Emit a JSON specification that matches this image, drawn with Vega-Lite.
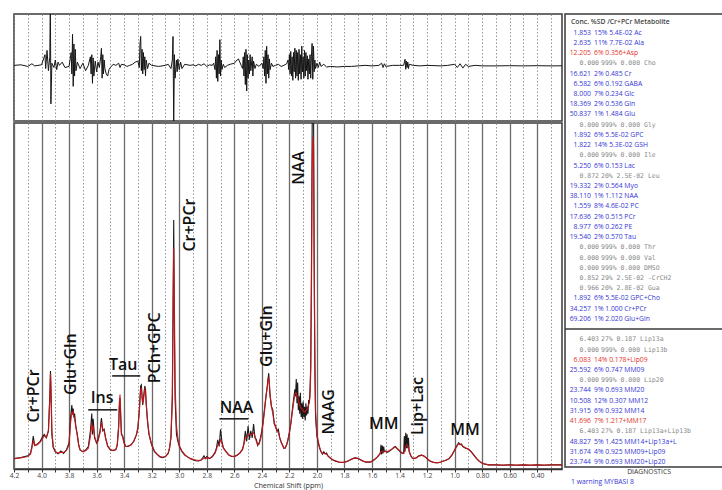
{
"$schema": "https://vega.github.io/schema/vega-lite/v6.json",
"background": "white",
"padding": {"left": 8, "top": 13, "right": 0, "bottom": 0},
"spacing": 0,
"config": {
  "view": {"stroke": "#3a3a3a", "strokeWidth": 1.5},
  "font": "Open Sans",
  "axis": {"labelFont": "Open Sans", "titleFont": "Open Sans"}
},
"datasets": {
"spec": [
{"p":4.20,"d":3.0,"f":3.0},{"p":4.15,"d":3.3,"f":3.2},{"p":4.10,"d":3.8,"f":3.6},{"p":4.08,"d":4.6,"f":4.3},{"p":4.07,"d":6.5,"f":6.0},{"p":4.06,"d":9.5,"f":8.3},{"p":4.05,"d":6.8,"f":6.8},{"p":4.03,"d":7.2,"f":7.0},{"p":4.01,"d":8.0,"f":7.8},{"p":3.99,"d":9.5,"f":9.0},{"p":3.98,"d":10.0,"f":9.6},{"p":3.965,"d":9.0,"f":9.2},{"p":3.95,"d":11.0,"f":11.0},{"p":3.94,"d":21.0,"f":20.0},{"p":3.935,"d":28.3,"f":27.5},{"p":3.93,"d":20.0,"f":21.0},{"p":3.925,"d":10.0,"f":11.0},{"p":3.915,"d":6.2,"f":6.5},{"p":3.90,"d":5.0,"f":5.0},{"p":3.88,"d":4.4,"f":4.6},{"p":3.86,"d":5.2,"f":4.8},{"p":3.84,"d":4.5,"f":4.8},{"p":3.82,"d":5.5,"f":5.3},{"p":3.80,"d":7.5,"f":7.0},{"p":3.79,"d":14.5,"f":13.0},{"p":3.78,"d":18.5,"f":16.5},{"p":3.775,"d":16.0,"f":16.0},{"p":3.77,"d":17.5,"f":16.5},{"p":3.765,"d":15.0,"f":15.0},{"p":3.76,"d":16.0,"f":14.5},{"p":3.75,"d":12.0,"f":12.0},{"p":3.74,"d":10.0,"f":9.5},{"p":3.73,"d":6.8,"f":7.0},{"p":3.72,"d":5.5,"f":5.5},{"p":3.70,"d":5.0,"f":5.0},{"p":3.68,"d":5.5,"f":5.3},{"p":3.66,"d":6.5,"f":6.0},{"p":3.645,"d":11.0,"f":9.5},{"p":3.635,"d":16.0,"f":13.5},{"p":3.63,"d":10.0,"f":11.0},{"p":3.625,"d":14.5,"f":12.5},{"p":3.615,"d":9.0,"f":9.5},{"p":3.60,"d":7.5,"f":7.5},{"p":3.59,"d":8.5,"f":8.0},{"p":3.575,"d":11.0,"f":10.5},{"p":3.565,"d":14.7,"f":13.5},{"p":3.555,"d":11.0,"f":11.5},{"p":3.545,"d":11.5,"f":11.0},{"p":3.535,"d":9.0,"f":9.0},{"p":3.52,"d":6.6,"f":6.8},{"p":3.50,"d":5.5,"f":5.6},{"p":3.48,"d":5.3,"f":5.4},{"p":3.46,"d":5.6,"f":5.6},{"p":3.45,"d":7.0,"f":7.0},{"p":3.44,"d":12.0,"f":12.5},{"p":3.435,"d":18.0,"f":19.0},{"p":3.43,"d":20.5,"f":21.5},{"p":3.425,"d":15.0,"f":16.0},{"p":3.42,"d":10.0,"f":10.5},{"p":3.41,"d":9.5,"f":9.0},{"p":3.40,"d":7.5,"f":7.5},{"p":3.39,"d":6.5,"f":6.5},{"p":3.37,"d":6.6,"f":6.5},{"p":3.35,"d":7.0,"f":7.0},{"p":3.33,"d":8.0,"f":8.0},{"p":3.31,"d":10.0,"f":10.0},{"p":3.30,"d":12.0,"f":12.0},{"p":3.29,"d":17.0,"f":16.5},{"p":3.28,"d":24.0,"f":23.0},{"p":3.275,"d":24.3,"f":23.5},{"p":3.27,"d":21.0,"f":21.0},{"p":3.265,"d":18.5,"f":19.0},{"p":3.26,"d":20.5,"f":20.0},{"p":3.25,"d":24.0,"f":23.0},{"p":3.245,"d":23.0,"f":22.5},{"p":3.24,"d":19.0,"f":19.0},{"p":3.23,"d":13.5,"f":14.0},{"p":3.22,"d":10.0,"f":10.5},{"p":3.21,"d":8.5,"f":8.5},{"p":3.20,"d":7.0,"f":7.0},{"p":3.18,"d":5.0,"f":5.2},{"p":3.16,"d":4.2,"f":4.2},{"p":3.14,"d":3.5,"f":3.6},{"p":3.12,"d":3.3,"f":3.4},{"p":3.10,"d":3.6,"f":3.6},{"p":3.08,"d":4.5,"f":4.6},{"p":3.07,"d":6.0,"f":6.2},{"p":3.06,"d":9.0,"f":9.5},{"p":3.05,"d":20.0,"f":22.0},{"p":3.045,"d":45.0,"f":45.0},{"p":3.04,"d":72.0,"f":64.0},{"p":3.035,"d":40.0,"f":46.0},{"p":3.03,"d":20.0,"f":24.0},{"p":3.02,"d":10.0,"f":12.5},{"p":3.01,"d":8.0,"f":9.0},{"p":3.00,"d":6.6,"f":6.8},{"p":2.98,"d":5.0,"f":5.2},{"p":2.96,"d":4.0,"f":4.2},{"p":2.94,"d":3.5,"f":3.5},{"p":2.92,"d":3.0,"f":3.0},{"p":2.90,"d":2.7,"f":2.8},{"p":2.88,"d":2.4,"f":2.6},{"p":2.86,"d":2.3,"f":2.4},{"p":2.84,"d":2.6,"f":2.6},{"p":2.82,"d":3.8,"f":3.2},{"p":2.81,"d":3.0,"f":3.1},{"p":2.80,"d":3.6,"f":3.2},{"p":2.78,"d":3.0,"f":3.1},{"p":2.76,"d":3.6,"f":3.5},{"p":2.74,"d":4.8,"f":4.6},{"p":2.73,"d":6.0,"f":5.6},{"p":2.72,"d":8.4,"f":7.0},{"p":2.71,"d":6.5,"f":7.0},{"p":2.70,"d":11.5,"f":8.5},{"p":2.69,"d":8.0,"f":7.5},{"p":2.68,"d":6.2,"f":6.0},{"p":2.66,"d":5.0,"f":5.0},{"p":2.64,"d":4.0,"f":4.1},{"p":2.62,"d":3.6,"f":3.7},{"p":2.60,"d":3.6,"f":3.6},{"p":2.58,"d":4.0,"f":4.0},{"p":2.56,"d":4.6,"f":4.6},{"p":2.54,"d":5.6,"f":5.8},{"p":2.53,"d":7.5,"f":7.2},{"p":2.52,"d":11.0,"f":9.0},{"p":2.51,"d":8.0,"f":9.0},{"p":2.50,"d":12.4,"f":10.0},{"p":2.49,"d":8.5,"f":10.0},{"p":2.48,"d":11.0,"f":10.0},{"p":2.47,"d":9.0,"f":10.0},{"p":2.46,"d":13.0,"f":10.5},{"p":2.45,"d":9.0,"f":9.5},{"p":2.44,"d":8.5,"f":8.0},{"p":2.43,"d":6.8,"f":7.0},{"p":2.42,"d":7.5,"f":7.2},{"p":2.41,"d":9.0,"f":8.5},{"p":2.40,"d":11.0,"f":10.5},{"p":2.39,"d":14.0,"f":13.5},{"p":2.38,"d":17.5,"f":17.0},{"p":2.37,"d":21.0,"f":21.0},{"p":2.36,"d":24.0,"f":24.0},{"p":2.355,"d":26.0,"f":26.0},{"p":2.35,"d":27.7,"f":26.5},{"p":2.345,"d":24.0,"f":24.5},{"p":2.34,"d":21.0,"f":21.5},{"p":2.33,"d":18.0,"f":18.0},{"p":2.32,"d":17.0,"f":16.0},{"p":2.31,"d":13.0,"f":13.5},{"p":2.30,"d":12.4,"f":12.0},{"p":2.29,"d":11.0,"f":11.0},{"p":2.28,"d":11.5,"f":10.5},{"p":2.27,"d":9.0,"f":9.0},{"p":2.26,"d":7.8,"f":7.8},{"p":2.25,"d":7.0,"f":6.8},{"p":2.24,"d":6.0,"f":6.0},{"p":2.23,"d":6.0,"f":6.2},{"p":2.22,"d":7.0,"f":7.0},{"p":2.21,"d":8.5,"f":8.5},{"p":2.20,"d":10.5,"f":10.5},{"p":2.19,"d":13.0,"f":13.0},{"p":2.18,"d":16.5,"f":16.0},{"p":2.17,"d":20.0,"f":19.0},{"p":2.16,"d":23.0,"f":21.5},{"p":2.155,"d":21.0,"f":22.0},{"p":2.15,"d":26.0,"f":22.0},{"p":2.145,"d":19.0,"f":21.0},{"p":2.14,"d":25.0,"f":21.0},{"p":2.135,"d":17.0,"f":20.0},{"p":2.13,"d":21.0,"f":19.0},{"p":2.125,"d":16.0,"f":18.5},{"p":2.12,"d":22.0,"f":18.0},{"p":2.115,"d":15.0,"f":17.5},{"p":2.11,"d":19.0,"f":17.5},{"p":2.105,"d":14.5,"f":17.0},{"p":2.10,"d":19.5,"f":17.0},{"p":2.095,"d":15.0,"f":16.5},{"p":2.09,"d":18.0,"f":16.5},{"p":2.085,"d":14.0,"f":16.5},{"p":2.08,"d":19.0,"f":17.0},{"p":2.075,"d":15.5,"f":17.0},{"p":2.07,"d":18.0,"f":17.5},{"p":2.065,"d":16.0,"f":18.0},{"p":2.06,"d":20.0,"f":18.5},{"p":2.055,"d":19.0,"f":19.5},{"p":2.05,"d":23.0,"f":21.0},{"p":2.045,"d":30.0,"f":28.0},{"p":2.04,"d":55.0,"f":50.0},{"p":2.035,"d":95.0,"f":85.0},{"p":2.03,"d":125.0,"f":96.0},{"p":2.025,"d":110.0,"f":94.0},{"p":2.02,"d":60.0,"f":62.0},{"p":2.015,"d":30.0,"f":32.0},{"p":2.01,"d":15.0,"f":17.0},{"p":2.00,"d":9.5,"f":10.0},{"p":1.99,"d":7.5,"f":8.0},{"p":1.98,"d":6.0,"f":6.2},{"p":1.97,"d":5.0,"f":5.0},{"p":1.96,"d":4.3,"f":4.5},{"p":1.95,"d":5.0,"f":4.5},{"p":1.94,"d":4.4,"f":4.4},{"p":1.93,"d":4.6,"f":4.3},{"p":1.92,"d":3.8,"f":3.8},{"p":1.90,"d":3.0,"f":3.1},{"p":1.88,"d":2.5,"f":2.6},{"p":1.86,"d":2.2,"f":2.3},{"p":1.84,"d":2.0,"f":2.0},{"p":1.82,"d":1.9,"f":1.9},{"p":1.80,"d":2.0,"f":2.0},{"p":1.78,"d":2.2,"f":2.2},{"p":1.76,"d":2.6,"f":2.6},{"p":1.74,"d":3.0,"f":3.0},{"p":1.72,"d":3.2,"f":3.2},{"p":1.70,"d":3.0,"f":3.0},{"p":1.68,"d":2.6,"f":2.6},{"p":1.66,"d":2.2,"f":2.2},{"p":1.64,"d":2.0,"f":2.0},{"p":1.62,"d":2.0,"f":2.0},{"p":1.60,"d":2.2,"f":2.2},{"p":1.58,"d":2.8,"f":2.8},{"p":1.56,"d":3.5,"f":3.5},{"p":1.55,"d":4.0,"f":4.0},{"p":1.54,"d":4.5,"f":4.5},{"p":1.535,"d":7.0,"f":5.0},{"p":1.53,"d":4.2,"f":5.0},{"p":1.525,"d":6.8,"f":5.1},{"p":1.52,"d":4.5,"f":5.2},{"p":1.515,"d":6.5,"f":5.2},{"p":1.51,"d":5.0,"f":5.1},{"p":1.50,"d":5.2,"f":5.0},{"p":1.49,"d":4.8,"f":5.0},{"p":1.48,"d":5.0,"f":5.2},{"p":1.46,"d":5.6,"f":5.6},{"p":1.44,"d":6.3,"f":6.2},{"p":1.43,"d":6.5,"f":6.3},{"p":1.42,"d":6.0,"f":6.0},{"p":1.40,"d":5.2,"f":5.3},{"p":1.38,"d":4.5,"f":4.6},{"p":1.37,"d":4.6,"f":4.4},{"p":1.365,"d":9.5,"f":5.0},{"p":1.36,"d":5.0,"f":5.8},{"p":1.355,"d":10.5,"f":6.5},{"p":1.35,"d":6.0,"f":7.0},{"p":1.345,"d":10.0,"f":7.0},{"p":1.34,"d":6.0,"f":6.8},{"p":1.335,"d":9.0,"f":6.0},{"p":1.33,"d":5.0,"f":5.2},{"p":1.32,"d":4.0,"f":4.0},{"p":1.31,"d":3.3,"f":3.3},{"p":1.30,"d":3.0,"f":3.0},{"p":1.28,"d":3.2,"f":3.2},{"p":1.26,"d":3.8,"f":3.7},{"p":1.24,"d":4.0,"f":4.0},{"p":1.22,"d":3.7,"f":3.7},{"p":1.20,"d":3.0,"f":3.0},{"p":1.18,"d":2.3,"f":2.4},{"p":1.16,"d":2.0,"f":2.0},{"p":1.14,"d":1.8,"f":1.8},{"p":1.12,"d":1.8,"f":1.8},{"p":1.10,"d":2.0,"f":2.0},{"p":1.08,"d":2.3,"f":2.3},{"p":1.06,"d":2.6,"f":2.6},{"p":1.04,"d":3.0,"f":3.0},{"p":1.02,"d":4.0,"f":4.0},{"p":1.00,"d":5.5,"f":5.4},{"p":0.98,"d":7.0,"f":6.8},{"p":0.97,"d":7.6,"f":7.3},{"p":0.96,"d":7.0,"f":7.2},{"p":0.95,"d":7.2,"f":7.0},{"p":0.94,"d":6.5,"f":6.6},{"p":0.92,"d":6.0,"f":6.1},{"p":0.90,"d":5.8,"f":5.7},{"p":0.88,"d":5.0,"f":5.0},{"p":0.86,"d":4.0,"f":4.0},{"p":0.84,"d":3.0,"f":3.0},{"p":0.82,"d":2.2,"f":2.2},{"p":0.80,"d":1.7,"f":1.7},{"p":0.78,"d":1.4,"f":1.4},{"p":0.75,"d":1.2,"f":1.2},{"p":0.70,"d":1.2,"f":1.2},{"p":0.65,"d":1.1,"f":1.1},{"p":0.60,"d":1.2,"f":1.2},{"p":0.55,"d":1.1,"f":1.1},{"p":0.50,"d":1.2,"f":1.2},{"p":0.45,"d":1.1,"f":1.1},{"p":0.40,"d":1.2,"f":1.2},{"p":0.35,"d":1.1,"f":1.1},{"p":0.30,"d":1.2,"f":1.2},{"p":0.22,"d":1.2,"f":1.2}
],
"res": [
{"p":4.20,"r":0},{"p":4.15,"r":0.5},{"p":4.10,"r":-1},{"p":4.07,"r":1.5},{"p":4.05,"r":-0.5},{"p":4.00,"r":0.5},{"p":3.975,"r":10},{"p":3.97,"r":-3},{"p":3.96,"r":14},{"p":3.95,"r":-5},{"p":3.94,"r":8},{"p":3.936,"r":60},{"p":3.932,"r":-36},{"p":3.925,"r":2},{"p":3.91,"r":-2},{"p":3.90,"r":5},{"p":3.89,"r":-4},{"p":3.88,"r":3},{"p":3.87,"r":0},{"p":3.85,"r":3},{"p":3.83,"r":-2},{"p":3.80,"r":-1},{"p":3.785,"r":12},{"p":3.78,"r":-8},{"p":3.775,"r":29},{"p":3.77,"r":-19.6},{"p":3.765,"r":20},{"p":3.76,"r":-10},{"p":3.755,"r":15},{"p":3.75,"r":-5},{"p":3.74,"r":3},{"p":3.72,"r":-3},{"p":3.70,"r":2},{"p":3.68,"r":-5},{"p":3.66,"r":0},{"p":3.645,"r":8},{"p":3.64,"r":-8},{"p":3.635,"r":10},{"p":3.63,"r":-16.8},{"p":3.625,"r":7},{"p":3.62,"r":-10},{"p":3.61,"r":4},{"p":3.60,"r":-6},{"p":3.59,"r":3},{"p":3.58,"r":-2},{"p":3.57,"r":8},{"p":3.565,"r":15.9},{"p":3.56,"r":-12},{"p":3.555,"r":10},{"p":3.55,"r":-8},{"p":3.545,"r":5},{"p":3.54,"r":-3},{"p":3.53,"r":-8},{"p":3.52,"r":-10},{"p":3.51,"r":-4},{"p":3.50,"r":-2},{"p":3.48,"r":1},{"p":3.46,"r":0},{"p":3.44,"r":2},{"p":3.43,"r":-2},{"p":3.42,"r":1},{"p":3.40,"r":0.5},{"p":3.38,"r":-1},{"p":3.36,"r":0},{"p":3.34,"r":1},{"p":3.32,"r":3},{"p":3.30,"r":4},{"p":3.29,"r":-2},{"p":3.285,"r":20},{"p":3.28,"r":27},{"p":3.275,"r":-5},{"p":3.27,"r":15},{"p":3.265,"r":-8},{"p":3.26,"r":12},{"p":3.255,"r":-4},{"p":3.25,"r":8},{"p":3.245,"r":-10},{"p":3.24,"r":5},{"p":3.23,"r":-3},{"p":3.22,"r":2},{"p":3.20,"r":0},{"p":3.15,"r":-1},{"p":3.10,"r":0},{"p":3.08,"r":1},{"p":3.06,"r":-3},{"p":3.05,"r":5},{"p":3.045,"r":27},{"p":3.04,"r":-55},{"p":3.035,"r":10},{"p":3.03,"r":-12},{"p":3.02,"r":5},{"p":3.015,"r":-6},{"p":3.01,"r":6},{"p":3.00,"r":-4},{"p":2.99,"r":3},{"p":2.98,"r":-3},{"p":2.96,"r":1},{"p":2.92,"r":0},{"p":2.90,"r":0.5},{"p":2.88,"r":-0.5},{"p":2.86,"r":1},{"p":2.84,"r":0},{"p":2.82,"r":1.5},{"p":2.80,"r":-1},{"p":2.78,"r":0.5},{"p":2.76,"r":0},{"p":2.75,"r":2},{"p":2.74,"r":-4},{"p":2.735,"r":8},{"p":2.73,"r":-12},{"p":2.725,"r":14},{"p":2.72,"r":-15},{"p":2.715,"r":10},{"p":2.71,"r":-8},{"p":2.705,"r":24},{"p":2.70,"r":-10},{"p":2.695,"r":5},{"p":2.69,"r":-4},{"p":2.68,"r":1},{"p":2.67,"r":-2},{"p":2.65,"r":0},{"p":2.63,"r":1},{"p":2.60,"r":2},{"p":2.58,"r":5},{"p":2.57,"r":6},{"p":2.56,"r":3},{"p":2.55,"r":0},{"p":2.54,"r":-3},{"p":2.535,"r":8},{"p":2.53,"r":-10},{"p":2.525,"r":12},{"p":2.52,"r":-18},{"p":2.515,"r":15},{"p":2.51,"r":-24},{"p":2.505,"r":10},{"p":2.50,"r":-12},{"p":2.495,"r":5},{"p":2.49,"r":-8},{"p":2.485,"r":10},{"p":2.48,"r":-5},{"p":2.47,"r":8},{"p":2.465,"r":-10},{"p":2.46,"r":4},{"p":2.45,"r":-3},{"p":2.44,"r":1},{"p":2.42,"r":-1},{"p":2.40,"r":2},{"p":2.39,"r":-3},{"p":2.385,"r":8},{"p":2.38,"r":-10},{"p":2.375,"r":14},{"p":2.37,"r":-16.8},{"p":2.365,"r":17.8},{"p":2.36,"r":-8},{"p":2.355,"r":10},{"p":2.35,"r":-12},{"p":2.345,"r":6},{"p":2.34,"r":-4},{"p":2.33,"r":2},{"p":2.32,"r":-1},{"p":2.30,"r":0},{"p":2.28,"r":1},{"p":2.26,"r":-1},{"p":2.24,"r":0},{"p":2.22,"r":1.5},{"p":2.21,"r":5},{"p":2.205,"r":-4},{"p":2.20,"r":10},{"p":2.195,"r":-8},{"p":2.19,"r":13},{"p":2.185,"r":-10},{"p":2.18,"r":8},{"p":2.175,"r":-14},{"p":2.17,"r":12},{"p":2.165,"r":-6},{"p":2.16,"r":16},{"p":2.155,"r":-12},{"p":2.15,"r":14},{"p":2.145,"r":-10},{"p":2.14,"r":12},{"p":2.135,"r":-14},{"p":2.13,"r":15},{"p":2.125,"r":-8},{"p":2.12,"r":10},{"p":2.115,"r":-13},{"p":2.11,"r":18},{"p":2.105,"r":-6},{"p":2.10,"r":8},{"p":2.095,"r":-12},{"p":2.09,"r":14},{"p":2.085,"r":-10},{"p":2.08,"r":12},{"p":2.075,"r":-5},{"p":2.07,"r":9},{"p":2.065,"r":-13},{"p":2.06,"r":6},{"p":2.055,"r":-8},{"p":2.05,"r":10},{"p":2.045,"r":-12},{"p":2.04,"r":8},{"p":2.035,"r":20.5},{"p":2.03,"r":-13},{"p":2.025,"r":18},{"p":2.02,"r":-6},{"p":2.015,"r":5},{"p":2.01,"r":-3},{"p":2.00,"r":2},{"p":1.99,"r":-2},{"p":1.98,"r":3},{"p":1.97,"r":-1},{"p":1.95,"r":1},{"p":1.93,"r":-1.5},{"p":1.90,"r":-1},{"p":1.85,"r":-1.5},{"p":1.80,"r":-1},{"p":1.75,"r":-1},{"p":1.70,"r":-0.5},{"p":1.65,"r":0},{"p":1.60,"r":-0.5},{"p":1.55,"r":0},{"p":1.53,"r":2},{"p":1.52,"r":-2},{"p":1.51,"r":1.5},{"p":1.50,"r":-1},{"p":1.45,"r":0},{"p":1.40,"r":0},{"p":1.37,"r":0},{"p":1.36,"r":5.6},{"p":1.355,"r":-3.7},{"p":1.35,"r":4},{"p":1.345,"r":-2},{"p":1.34,"r":3},{"p":1.335,"r":-3},{"p":1.33,"r":1},{"p":1.30,"r":0},{"p":1.25,"r":-0.5},{"p":1.20,"r":0},{"p":1.10,"r":-0.5},{"p":1.05,"r":0},{"p":1.00,"r":1},{"p":0.98,"r":-2},{"p":0.96,"r":1.5},{"p":0.94,"r":-2.5},{"p":0.92,"r":1},{"p":0.90,"r":-1},{"p":0.85,"r":0},{"p":0.80,"r":-0.5},{"p":0.70,"r":-0.5},{"p":0.60,"r":-0.3},{"p":0.50,"r":-0.5},{"p":0.40,"r":-0.3},{"p":0.30,"r":-0.5},{"p":0.22,"r":-0.4}
],
"labels": [
{"p":4.054,"v":21.1,"t":"Cr+PCr","rot":1},
{"p":3.785,"v":30.3,"t":"Glu+Gln","rot":1},
{"p":3.56,"v":20.5,"t":"Ins","rot":0},
{"p":3.407,"v":30.1,"t":"Tau","rot":0},
{"p":3.174,"v":35.0,"t":"PCh+GPC","rot":1},
{"p":2.919,"v":70.5,"t":"Cr+PCr","rot":1},
{"p":2.133,"v":87.0,"t":"NAA","rot":1},
{"p":2.584,"v":17.6,"t":"NAA","rot":0},
{"p":2.359,"v":38.4,"t":"Glu+Gln","rot":1},
{"p":1.915,"v":16.5,"t":"NAAG","rot":1},
{"p":1.514,"v":13.0,"t":"MM","rot":0},
{"p":1.267,"v":18.2,"t":"Lip+Lac","rot":1},
{"p":0.925,"v":11.3,"t":"MM","rot":0}
],
"bars": [
{"p":3.661,"p2":3.45,"v":17.1},
{"p":3.487,"p2":3.283,"v":26.9},
{"p":2.708,"p2":2.497,"v":14.5}
],
"table": [
{"i":1,"conc":"1.853","sd":"15%","ratio":"5.4E-02","name":"Ac","g":"b"},
{"i":2,"conc":"2.635","sd":"11%","ratio":"7.7E-02","name":"Ala","g":"b"},
{"i":3,"conc":"12.205","sd":"6%","ratio":"0.356","name":"Asp","g":"r"},
{"i":4,"conc":"0.000","sd":"999%","ratio":"0.000","name":"Cho","g":"g"},
{"i":5,"conc":"16.621","sd":"2%","ratio":"0.485","name":"Cr","g":"b"},
{"i":6,"conc":"6.582","sd":"6%","ratio":"0.192","name":"GABA","g":"b"},
{"i":7,"conc":"8.000","sd":"7%","ratio":"0.234","name":"Glc","g":"b"},
{"i":8,"conc":"18.369","sd":"2%","ratio":"0.536","name":"Gln","g":"b"},
{"i":9,"conc":"50.837","sd":"1%","ratio":"1.484","name":"Glu","g":"b"},
{"i":10,"conc":"0.000","sd":"999%","ratio":"0.000","name":"Gly","g":"g"},
{"i":11,"conc":"1.892","sd":"6%","ratio":"5.5E-02","name":"GPC","g":"b"},
{"i":12,"conc":"1.822","sd":"14%","ratio":"5.3E-02","name":"GSH","g":"b"},
{"i":13,"conc":"0.000","sd":"999%","ratio":"0.000","name":"Ile","g":"g"},
{"i":14,"conc":"5.250","sd":"6%","ratio":"0.153","name":"Lac","g":"b"},
{"i":15,"conc":"0.872","sd":"20%","ratio":"2.5E-02","name":"Leu","g":"g"},
{"i":16,"conc":"19.332","sd":"2%","ratio":"0.564","name":"Myo","g":"b"},
{"i":17,"conc":"38.110","sd":"1%","ratio":"1.112","name":"NAA","g":"b"},
{"i":18,"conc":"1.559","sd":"8%","ratio":"4.6E-02","name":"PC","g":"b"},
{"i":19,"conc":"17.636","sd":"2%","ratio":"0.515","name":"PCr","g":"b"},
{"i":20,"conc":"8.977","sd":"6%","ratio":"0.262","name":"PE","g":"b"},
{"i":21,"conc":"19.540","sd":"2%","ratio":"0.570","name":"Tau","g":"b"},
{"i":22,"conc":"0.000","sd":"999%","ratio":"0.000","name":"Thr","g":"g"},
{"i":23,"conc":"0.000","sd":"999%","ratio":"0.000","name":"Val","g":"g"},
{"i":24,"conc":"0.000","sd":"999%","ratio":"0.000","name":"DMSO","g":"g"},
{"i":25,"conc":"0.852","sd":"29%","ratio":"2.5E-02","name":"-CrCH2","g":"g"},
{"i":26,"conc":"0.966","sd":"20%","ratio":"2.8E-02","name":"Gua","g":"g"},
{"i":27,"conc":"1.892","sd":"6%","ratio":"5.5E-02","name":"GPC+Cho","g":"b"},
{"i":28,"conc":"34.257","sd":"1%","ratio":"1.000","name":"Cr+PCr","g":"b"},
{"i":29,"conc":"69.206","sd":"1%","ratio":"2.020","name":"Glu+Gln","g":"b"},
{"i":31,"conc":"6.403","sd":"27%","ratio":"0.187","name":"Lip13a","g":"g"},
{"i":32,"conc":"0.000","sd":"999%","ratio":"0.000","name":"Lip13b","g":"g"},
{"i":33,"conc":"6.083","sd":"14%","ratio":"0.178","name":"Lip09","g":"r"},
{"i":34,"conc":"25.592","sd":"6%","ratio":"0.747","name":"MM09","g":"b"},
{"i":35,"conc":"0.000","sd":"999%","ratio":"0.000","name":"Lip20","g":"g"},
{"i":36,"conc":"23.744","sd":"9%","ratio":"0.693","name":"MM20","g":"b"},
{"i":37,"conc":"10.508","sd":"12%","ratio":"0.307","name":"MM12","g":"b"},
{"i":38,"conc":"31.915","sd":"6%","ratio":"0.932","name":"MM14","g":"b"},
{"i":39,"conc":"41.696","sd":"7%","ratio":"1.217","name":"MM17","g":"r"},
{"i":40,"conc":"6.403","sd":"27%","ratio":"0.187","name":"Lip13a+Lip13b","g":"g"},
{"i":41,"conc":"48.827","sd":"5%","ratio":"1.425","name":"MM14+Lip13a+L","g":"b"},
{"i":42,"conc":"31.674","sd":"4%","ratio":"0.925","name":"MM09+Lip09","g":"b"},
{"i":43,"conc":"23.744","sd":"9%","ratio":"0.693","name":"MM20+Lip20","g":"b"}
],
"seps": [{"i":30}],
"notes": [
{"i":0,"t":"Conc. %SD /Cr+PCr Metabolite","k":"head"},
{"i":44,"t":"DIAGNOSTICS","k":"diag"},
{"i":45,"t":"1 warning  MYBASI 8","k":"warn"}
]
},
"hconcat": [
{
 "spacing": 0,
 "vconcat": [
  {
   "width": 548, "height": 107,
   "data": {"name": "res"},
   "mark": {"type": "line", "color": "#151515", "strokeWidth": 1, "clip": true},
   "encoding": {
    "x": {"field": "p", "type": "quantitative",
      "scale": {"domain": [0.22, 4.2], "reverse": true, "nice": false, "zero": false},
      "axis": {"values": [4.2,4.1,4.0,3.9,3.8,3.7,3.6,3.5,3.4,3.3,3.2,3.1,3.0,2.9,2.8,2.7,2.6,2.5,2.4,2.3,2.2,2.1,2.0,1.9,1.8,1.7,1.6,1.5,1.4,1.3,1.2,1.1,1.0,0.9,0.8,0.7,0.6,0.5,0.4,0.3],
        "grid": true, "gridColor": "#8a8a8a", "gridDash": [1.5, 2], "gridWidth": 0.9,
        "labels": false, "ticks": false, "domain": false, "title": null}},
    "y": {"field": "r", "type": "quantitative", "scale": {"domain": [-52, 48], "nice": false, "zero": false}, "axis": null}
   }
  },
  {
   "width": 548, "height": 346,
   "encoding": {
    "x": {"field": "p", "type": "quantitative",
      "scale": {"domain": [0.22, 4.2], "reverse": true, "nice": false, "zero": false},
      "axis": {"values": [4.2,4.1,4.0,3.9,3.8,3.7,3.6,3.5,3.4,3.3,3.2,3.1,3.0,2.9,2.8,2.7,2.6,2.5,2.4,2.3,2.2,2.1,2.0,1.9,1.8,1.7,1.6,1.5,1.4,1.3,1.2,1.1,1.0,0.9,0.8,0.7,0.6,0.5,0.4,0.3],
        "labelExpr": "round(datum.value*10)%2===0 && datum.value>0.35 ? (datum.value>=0.95 ? format(datum.value,'.1f') : format(datum.value,'.2f')) : ''",
        "labelOverlap": false, "labelFlush": false,
        "grid": true,
        "gridColor": {"condition": {"test": "round(datum.value*10)%2!==0", "value": "#8a8a8a"}, "value": "#6a6a6a"},
        "gridDash": {"condition": {"test": "round(datum.value*10)%2!==0", "value": [1.5, 2]}, "value": []},
        "gridWidth": {"condition": {"test": "round(datum.value*10)%2!==0", "value": 0.9}, "value": 1.3},
        "tickSize": 3, "tickColor": "#333", "tickWidth": 1,
        "domainColor": "#333", "domainWidth": 1.5,
        "labelFontSize": 6.8, "labelColor": "#444", "labelPadding": 0,
        "title": "Chemical Shift (ppm)", "titleFontSize": 7.2, "titleFontWeight": "normal", "titleColor": "#333", "titlePadding": 3}}
   },
   "layer": [
    {"data": {"name": "spec"},
     "mark": {"type": "line", "color": "#1a1a1a", "strokeWidth": 1.1, "clip": true},
     "encoding": {"y": {"field": "d", "type": "quantitative", "scale": {"domain": [0, 100], "nice": false, "zero": false}, "axis": null}}},
    {"data": {"name": "spec"},
     "mark": {"type": "line", "color": "#c8161b", "strokeWidth": 1.2, "clip": true, "opacity": 0.9},
     "encoding": {"y": {"field": "f", "type": "quantitative", "scale": {"domain": [0, 100], "nice": false, "zero": false}, "axis": null}}},
    {"data": {"name": "bars"},
     "mark": {"type": "rule", "color": "#111", "strokeWidth": 1.5},
     "encoding": {"x2": {"field": "p2"}, "y": {"field": "v", "type": "quantitative", "scale": {"domain": [0, 100]}, "axis": null}}},
    {"data": {"name": "labels"},
     "transform": [{"filter": "datum.rot == 1"}],
     "mark": {"type": "text", "angle": 270, "align": "center", "baseline": "middle", "font": "Open Sans", "fontSize": 16, "fontWeight": 600, "color": "#111"},
     "encoding": {"y": {"field": "v", "type": "quantitative", "scale": {"domain": [0, 100]}, "axis": null}, "text": {"field": "t"}}},
    {"data": {"name": "labels"},
     "transform": [{"filter": "datum.rot == 0"}],
     "mark": {"type": "text", "align": "center", "baseline": "middle", "font": "Open Sans", "fontSize": 16, "fontWeight": 600, "color": "#111"},
     "encoding": {"y": {"field": "v", "type": "quantitative", "scale": {"domain": [0, 100]}, "axis": null}, "text": {"field": "t"}}}
   ]
  }
 ]
},
{
 "width": 162, "height": 453,
 "layer": [
  {"data": {"name": "table"},
   "transform": [{"filter": "datum.g != 'g'"}],
   "mark": {"type": "text", "align": "right", "baseline": "middle", "font": "Open Sans", "fontSize": 6.8},
   "encoding": {
    "x": {"datum": 16.0, "type": "quantitative", "scale": {"domain": [0, 100]}, "axis": null},
    "y": {"field": "i", "type": "quantitative", "scale": {"domain": [-0.83, 43.49], "reverse": true, "nice": false, "zero": false}, "axis": null},
    "text": {"field": "conc"},
    "color": {"field": "g", "type": "nominal", "scale": {"domain": ["b", "r", "g"], "range": ["#3636d6", "#e3342b", "#8a8a8a"]}, "legend": null}}},
  {"data": {"name": "table"},
   "transform": [{"filter": "datum.g != 'g'"}, {"calculate": "datum.sd + ' ' + datum.ratio + (datum.g == 'r' ? '+' : ' ') + datum.name", "as": "rest"}],
   "mark": {"type": "text", "align": "left", "baseline": "middle", "font": "Open Sans", "fontSize": 6.8},
   "encoding": {
    "x": {"datum": 17.9, "type": "quantitative"},
    "y": {"field": "i", "type": "quantitative"},
    "text": {"field": "rest"},
    "color": {"field": "g", "type": "nominal", "legend": null}}},
  {"data": {"name": "table"},
   "transform": [{"filter": "datum.g == 'g'"}],
   "mark": {"type": "text", "align": "right", "baseline": "middle", "font": "DejaVu Sans Mono", "fontSize": 6.5, "color": "#8a8a8a"},
   "encoding": {
    "x": {"datum": 21.0, "type": "quantitative"},
    "y": {"field": "i", "type": "quantitative"},
    "text": {"field": "conc"}}},
  {"data": {"name": "table"},
   "transform": [{"filter": "datum.g == 'g'"}, {"calculate": "pad(datum.sd, 4, ' ', 'left') + pad(datum.ratio, 8, ' ', 'left') + ' ' + datum.name", "as": "rest"}],
   "mark": {"type": "text", "align": "left", "baseline": "middle", "font": "DejaVu Sans Mono", "fontSize": 6.5, "color": "#8a8a8a"},
   "encoding": {
    "x": {"datum": 22.2, "type": "quantitative"},
    "y": {"field": "i", "type": "quantitative"},
    "text": {"field": "rest"}}},
  {"data": {"name": "seps"},
   "mark": {"type": "rule", "color": "#3a3a3a", "strokeWidth": 1.5},
   "encoding": {"y": {"field": "i", "type": "quantitative"}}},
  {"data": {"name": "notes"},
   "transform": [{"filter": "datum.k == 'head'"}],
   "mark": {"type": "text", "align": "left", "baseline": "middle", "font": "Open Sans", "fontSize": 6.8, "fontWeight": 600, "color": "#444"},
   "encoding": {"x": {"datum": 3.7, "type": "quantitative"}, "y": {"field": "i", "type": "quantitative"}, "text": {"field": "t"}}},
  {"data": {"name": "notes"},
   "transform": [{"filter": "datum.k == 'diag'"}],
   "mark": {"type": "text", "align": "center", "baseline": "middle", "font": "Open Sans", "fontSize": 6.8, "color": "#333"},
   "encoding": {"x": {"datum": 51.9, "type": "quantitative"}, "y": {"field": "i", "type": "quantitative"}, "text": {"field": "t"}}},
  {"data": {"name": "notes"},
   "transform": [{"filter": "datum.k == 'warn'"}],
   "mark": {"type": "text", "align": "left", "baseline": "middle", "font": "Open Sans", "fontSize": 6.8, "color": "#3636d6"},
   "encoding": {"x": {"datum": 3.7, "type": "quantitative"}, "y": {"field": "i", "type": "quantitative"}, "text": {"field": "t"}}}
 ]
}
]
}
